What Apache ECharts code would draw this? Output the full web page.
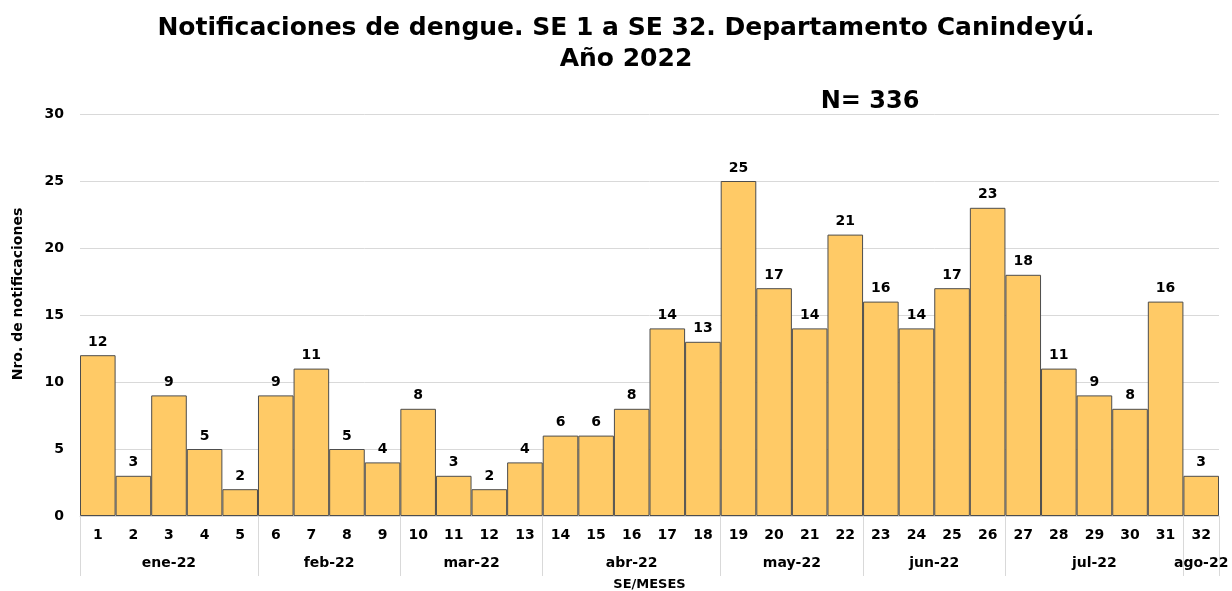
<!DOCTYPE html>
<html>
<head>
<meta charset="utf-8">
<script src="https://cdn.jsdelivr.net/npm/echarts@6/dist/echarts.min.js"></script>
<style>
  html, body { margin: 0; padding: 0; background: #fff; }
  #main { width: 1232px; height: 591px; }
</style>
</head>
<body>
<div id="main"></div>
<script>
// semanas epidemiologicas
var weeks = ['1','2','3','4','5','6','7','8','9','10','11','12','13','14','15','16',
             '17','18','19','20','21','22','23','24','25','26','27','28','29','30','31','32'];
var cases = [12,3,9,5,2,9,11,5,4,8,3,2,4,6,6,8,14,13,25,17,14,21,16,14,17,23,18,11,9,8,16,3];
// meses y cuantas semanas abarca cada uno
var months = ['ene-22','feb-22','mar-22','abr-22','may-22','jun-22','jul-22','ago-22'];
var monthWeeks = [5,4,4,5,4,4,5,1];
var yTicks = [0,5,10,15,20,25,30];

var bounds = [0], centers = [];
monthWeeks.forEach(function (n, i) {
  var start = bounds[i];
  bounds.push(start + n);
  centers.push(start + n / 2);
});

var font = 'DejaVu Sans, Verdana, sans-serif';
var myChart = echarts.init(document.getElementById('main'));

var option = {
  textStyle: { fontFamily: font },
  title: [
    {
      text: 'Notificaciones de dengue. SE 1 a SE 32. Departamento Canindeyú.\nAño 2022',
      left: 621,
      top: 8,
      textAlign: 'center',
      textStyle: { fontSize: 25, fontWeight: 'bold', color: '#000', lineHeight: 31, fontFamily: font }
    },
    {
      text: 'N= 336',
      left: 865,
      top: 85,
      textAlign: 'center',
      textStyle: { fontSize: 24, fontWeight: 'bold', color: '#000', fontFamily: font }
    }
  ],
  graphic: [
    {
      type: 'text',
      x: 18,
      y: 294,
      rotation: Math.PI / 2,
      style: {
        text: 'Nro. de notificaciones',
        fill: '#000',
        font: 'bold 14px ' + font,
        align: 'center',
        verticalAlign: 'middle'
      }
    }
  ],
  grid: { left: 80, right: 13, top: 114, bottom: 75, outerBoundsMode: 'none' },
  xAxis: [
    {
      type: 'category',
      data: weeks,
      axisLine: { lineStyle: { color: '#d9d9d9' } },
      axisTick: { show: false },
      axisLabel: { color: '#000', fontWeight: 'bold', fontSize: 14, margin: 12 },
      name: 'SE/MESES',
      nameLocation: 'middle',
      nameGap: 62,
      nameTextStyle: { fontWeight: 'bold', fontSize: 13, color: '#000' }
    },
    {
      type: 'value',
      position: 'bottom',
      min: 0,
      max: 32,
      axisLine: { show: false },
      splitLine: { show: false },
      axisTick: {
        show: true,
        length: 60,
        customValues: bounds,
        lineStyle: { color: '#d9d9d9' }
      },
      axisLabel: {
        customValues: centers,
        margin: 40,
        color: '#000',
        fontWeight: 'bold',
        fontSize: 14,
        formatter: function (v) {
          var i = centers.indexOf(v);
          return i >= 0 ? months[i] : '';
        }
      }
    }
  ],
  yAxis: {
    type: 'value',
    min: 0,
    max: 30,
    interval: 5,
    axisLine: { show: false },
    axisTick: { show: false },
    splitLine: { lineStyle: { color: '#d9d9d9' } },
    axisLabel: {
      color: '#000', fontWeight: 'bold', fontSize: 14, margin: 16,
      formatter: function (v) { return yTicks.indexOf(v) >= 0 ? v : ''; }
    }
  },
  series: [
    {
      type: 'bar',
      xAxisIndex: 0,
      data: cases,
      barCategoryGap: '0%',
      itemStyle: { color: '#FFCA66', borderColor: '#4d4d4d', borderWidth: 1 },
      label: {
        show: true,
        position: 'top',
        distance: 6,
        color: '#000',
        fontWeight: 'bold',
        fontSize: 14
      }
    }
  ]
};

myChart.setOption(option);
</script>
</body>
</html>
